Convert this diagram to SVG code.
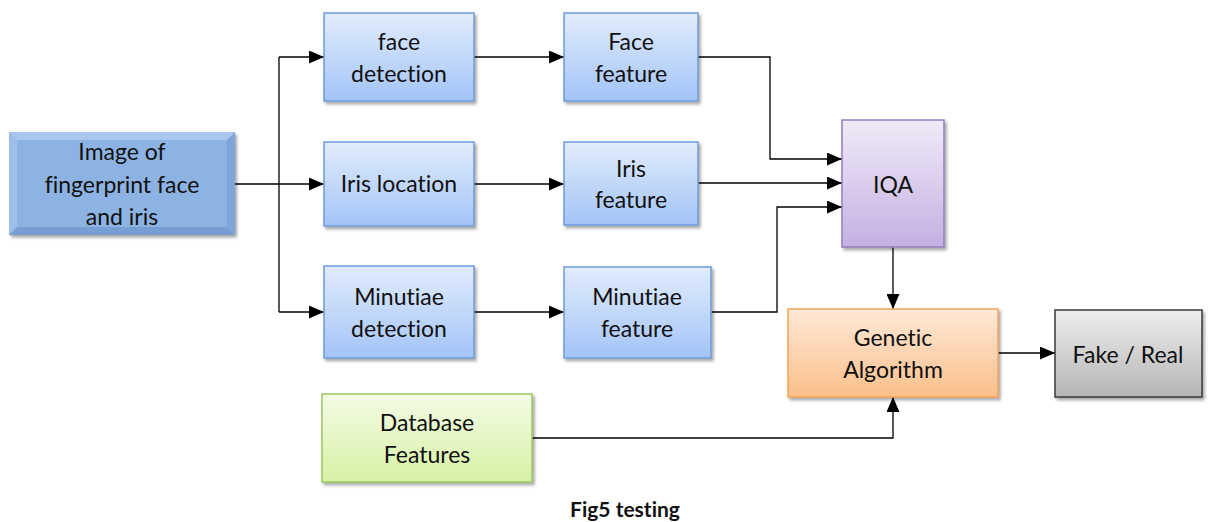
<svg xmlns="http://www.w3.org/2000/svg" width="1222" height="522" viewBox="0 0 1222 522">
<defs>
<linearGradient id="gBlue" x1="0" y1="0" x2="0" y2="1"><stop offset="0" stop-color="#e1ecfc"/><stop offset="1" stop-color="#a3c4f8"/></linearGradient>
<linearGradient id="gPurple" x1="0" y1="0" x2="0" y2="1"><stop offset="0" stop-color="#f0eaf8"/><stop offset="1" stop-color="#c4b0e2"/></linearGradient>
<linearGradient id="gOrange" x1="0" y1="0" x2="0" y2="1"><stop offset="0" stop-color="#ffe9d8"/><stop offset="1" stop-color="#fcbf8b"/></linearGradient>
<linearGradient id="gGray" x1="0" y1="0" x2="0" y2="1"><stop offset="0" stop-color="#eeeeee"/><stop offset="1" stop-color="#b5b5b5"/></linearGradient>
<linearGradient id="gGreen" x1="0" y1="0" x2="0" y2="1"><stop offset="0" stop-color="#f4fbe6"/><stop offset="1" stop-color="#d6f2a6"/></linearGradient>
<filter id="sh" x="-10%" y="-10%" width="125%" height="130%"><feDropShadow dx="2" dy="2.5" stdDeviation="1.5" flood-color="#000" flood-opacity="0.35"/></filter>
<marker id="arr" markerUnits="userSpaceOnUse" markerWidth="15" markerHeight="13" refX="15" refY="6.5" orient="auto"><path d="M0,0 L15,6.5 L0,13 z" fill="#000"/></marker>
</defs>
<style>
text{font-variant-ligatures:none;font-feature-settings:"liga" 0,"clig" 0}
.t{font-family:Lato,"Open Sans","Liberation Sans",sans-serif;font-size:23px;fill:#111;text-anchor:middle}
.c{fill:none;stroke:#000;stroke-width:1.3}
.a{marker-end:url(#arr)}
.blue{fill:url(#gBlue);stroke:#6e9bd8;stroke-width:1.5}
</style>
<rect width="1222" height="522" fill="#fff"/>

<g id="connectors">
<path class="c" d="M235,184 H279"/>
<path class="c" d="M279,57 V312"/>
<path class="c a" d="M279,57 H324"/>
<path class="c a" d="M279,184 H324"/>
<path class="c a" d="M279,312 H324"/>
<path class="c a" d="M474,57 H564"/>
<path class="c a" d="M474,184 H564"/>
<path class="c a" d="M474,312 H564"/>
<path class="c a" d="M698,57 H770 V159 H842"/>
<path class="c a" d="M698,183 H842"/>
<path class="c a" d="M711,312 H777 V207 H842"/>
<path class="c a" d="M893,247 V309"/>
<path class="c a" d="M998,353 H1055"/>
<path class="c a" d="M532,438 H893 V397"/>
</g>

<g id="input">
<g filter="url(#sh)">
<rect x="9" y="132" width="226" height="103" fill="#8db3e2"/>
<polygon points="9,132 235,132 227,140 17,140" fill="#aac8ee"/>
<polygon points="9,132 17,140 17,227 9,235" fill="#9dbee9"/>
<polygon points="235,132 235,235 227,227 227,140" fill="#7fa6d8"/>
<polygon points="9,235 235,235 227,227 17,227" fill="#779fd3"/>
</g>
<text class="t" x="122" y="160">Image of</text>
<text class="t" x="122" y="193">fingerprint face</text>
<text class="t" x="122" y="225">and iris</text>
</g>

<g id="face-detection">
<rect class="blue" x="324" y="13" width="150" height="88" filter="url(#sh)"/>
<text class="t" x="399" y="50">face</text>
<text class="t" x="399" y="82">detection</text>
</g>

<g id="iris-location">
<rect class="blue" x="324" y="142" width="150" height="84" filter="url(#sh)"/>
<text class="t" x="399" y="192">Iris location</text>
</g>

<g id="minutiae-detection">
<rect class="blue" x="324" y="266" width="150" height="92" filter="url(#sh)"/>
<text class="t" x="399" y="305">Minutiae</text>
<text class="t" x="399" y="337">detection</text>
</g>

<g id="face-feature">
<rect class="blue" x="564" y="13" width="134" height="88" filter="url(#sh)"/>
<text class="t" x="631" y="50">Face</text>
<text class="t" x="631" y="82">feature</text>
</g>

<g id="iris-feature">
<rect class="blue" x="564" y="142" width="134" height="83" filter="url(#sh)"/>
<text class="t" x="631" y="177">Iris</text>
<text class="t" x="631" y="208">feature</text>
</g>

<g id="minutiae-feature">
<rect class="blue" x="564" y="267" width="147" height="91" filter="url(#sh)"/>
<text class="t" x="637" y="305">Minutiae</text>
<text class="t" x="637" y="337">feature</text>
</g>

<g id="iqa">
<rect x="842" y="120" width="102" height="127" fill="url(#gPurple)" stroke="#957dbd" stroke-width="1.5" filter="url(#sh)"/>
<text class="t" x="893" y="193">IQA</text>
</g>

<g id="genetic">
<rect x="788" y="309" width="210" height="88" fill="url(#gOrange)" stroke="#f6a35a" stroke-width="1.5" filter="url(#sh)"/>
<text class="t" x="893" y="346">Genetic</text>
<text class="t" x="893" y="378">Algorithm</text>
</g>

<g id="fake-real">
<rect x="1055" y="310" width="147" height="87" fill="url(#gGray)" stroke="#3a3a3a" stroke-width="1.5" filter="url(#sh)"/>
<text class="t" x="1128" y="363">Fake / Real</text>
</g>

<g id="database">
<rect x="322" y="394" width="210" height="88" fill="url(#gGreen)" stroke="#9cc65c" stroke-width="1.5" filter="url(#sh)"/>
<text class="t" x="427" y="431">Database</text>
<text class="t" x="427" y="463">Features</text>
</g>

<text x="625" y="517" font-family="Lato,'Liberation Sans',sans-serif" font-size="21" font-weight="bold" fill="#111" text-anchor="middle">Fig5 testing</text>
</svg>
